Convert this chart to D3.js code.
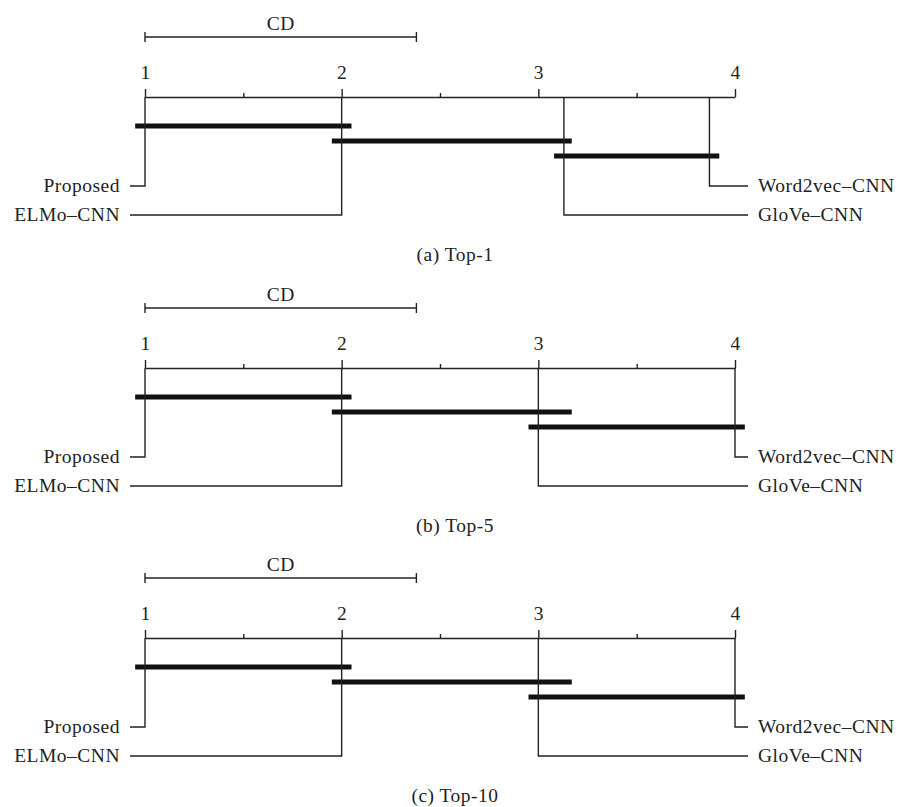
<!DOCTYPE html>
<html>
<head>
<meta charset="utf-8">
<script src="https://cdn.jsdelivr.net/npm/d3@7"></script>
<style>
  html, body { margin: 0; padding: 0; background: #fff; }
  svg text { font-family: "Liberation Serif", "Times New Roman", serif; fill: #222; letter-spacing: 0.5px; }
</style>
</head>
<body>
<svg id="chart" width="903" height="807"></svg>
<script>
// ---- data ----
const panels = ["(a) Top-1", "(b) Top-5", "(c) Top-10"];
const methods = ["Proposed", "ELMo\u2013CNN", "GloVe\u2013CNN", "Word2vec\u2013CNN"];
const ranksTop1 = [1.0, 2.0, 3.13, 3.87];
const ranksTop5 = [1.0, 2.0, 3.0, 4.0];
const ranksTop10 = [1.0, 2.0, 3.0, 4.0];
// non-significant groups (cliques) as [low rank, high rank]
const cliquesTop1 = [[1.0, 2.0], [2.0, 3.12], [3.13, 3.87]];
const cliquesTop5 = [[1.0, 2.0], [2.0, 3.12], [3.0, 4.0]];
const cliquesTop10 = [[1.0, 2.0], [2.0, 3.12], [3.0, 4.0]];
const criticalDifference = 1.38;
const majorTicks = [1, 2, 3, 4];
const minorTicks = [1.5, 2.5, 3.5];

const allRanks = [ranksTop1, ranksTop5, ranksTop10];
const allCliques = [cliquesTop1, cliquesTop5, cliquesTop10];

const svg = d3.select("#chart");
const x = d3.scaleLinear().domain([1, 4]).range([145, 735]);
const ink = "#222";
const fontSize = 19.5;
const panelOffsets = [0, 271, 541];

panels.forEach((title, p) => {
  const g = svg.append("g").attr("transform", `translate(0,${panelOffsets[p]})`);
  const ranks = allRanks[p];
  const cliques = allCliques[p];
  const axisY = 97;

  // CD bar
  const cdY = 37;
  g.append("line").attr("x1", x(1)).attr("x2", x(1 + criticalDifference))
    .attr("y1", cdY).attr("y2", cdY).attr("stroke", ink).attr("stroke-width", 1.4);
  [1, 1 + criticalDifference].forEach(v => {
    g.append("line").attr("x1", x(v)).attr("x2", x(v)).attr("y1", cdY - 5).attr("y2", cdY + 5)
      .attr("stroke", ink).attr("stroke-width", 1.4);
  });
  g.append("text").attr("x", x(1 + criticalDifference / 2)).attr("y", cdY - 7)
    .attr("text-anchor", "middle").attr("font-size", fontSize).text("CD");

  // axis
  const axisG = g.append("g").attr("transform", `translate(0,${axisY})`);
  axisG.call(d3.axisTop(x).tickValues(majorTicks).tickSize(8).tickSizeOuter(0).tickPadding(10)
    .tickFormat(d3.format("d")));
  axisG.select(".domain").attr("stroke", ink).attr("stroke-width", 1.4);
  axisG.selectAll(".tick line").attr("stroke", ink).attr("stroke-width", 1.4);
  axisG.selectAll(".tick text").attr("font-size", fontSize)
    .attr("font-family", '"Liberation Serif", serif').attr("fill", ink);
  const minorG = g.append("g").attr("transform", `translate(0,${axisY})`);
  minorG.call(d3.axisTop(x).tickValues(minorTicks).tickSize(4).tickSizeOuter(0).tickFormat(""));
  minorG.select(".domain").remove();
  minorG.selectAll(".tick line").attr("stroke", ink).attr("stroke-width", 1.4);

  // clique bars
  const barY0 = 126, barStep = 15;
  cliques.forEach((c, i) => {
    g.append("line").attr("x1", x(c[0] - 0.05)).attr("x2", x(c[1] + 0.05))
      .attr("y1", barY0 + i * barStep).attr("y2", barY0 + i * barStep)
      .attr("stroke", "#111").attr("stroke-width", 5);
  });

  // method connectors and labels
  const rowY = [186, 215, 215, 186];
  const leftEnd = 130, rightEnd = 748;
  methods.forEach((m, i) => {
    const r = ranks[i];
    const left = i < 2;
    const y = rowY[i];
    const xe = left ? leftEnd : rightEnd;
    g.append("path")
      .attr("d", `M${x(r)},${axisY} V${y} H${xe}`)
      .attr("fill", "none").attr("stroke", ink).attr("stroke-width", 1.4);
    g.append("text")
      .attr("x", left ? xe - 10 : xe + 10).attr("y", y + 6)
      .attr("text-anchor", left ? "end" : "start")
      .attr("font-size", fontSize).text(m);
  });

  // caption
  g.append("text").attr("x", 455).attr("y", 261).attr("text-anchor", "middle")
    .attr("font-size", fontSize).text(title);
});
</script>
</body>
</html>
